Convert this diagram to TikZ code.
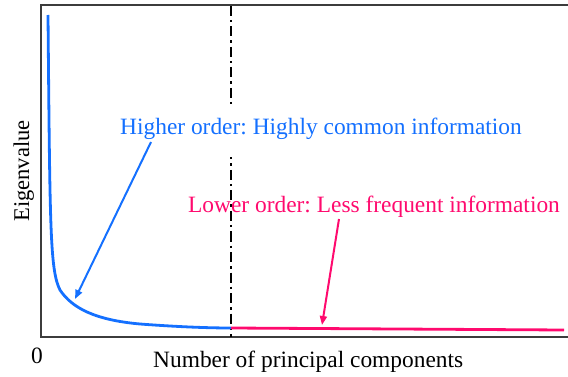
\documentclass[tikz,border=0pt]{standalone}
\usepackage{fontspec}
\setmainfont{Liberation Serif}
\usetikzlibrary{arrows.meta}
\definecolor{cblue}{RGB}{20,112,255}
\definecolor{cpink}{RGB}{255,10,110}
\definecolor{axisgray}{RGB}{60,60,60}
\frenchspacing
\begin{document}
\begin{tikzpicture}[x=1pt,y=-1pt,
  axisline/.style={draw=axisgray,line width=1.4pt},
  curveline/.style={line width=2.8pt},
  callout/.style={line width=2pt,-{Triangle[length=9pt,width=7pt]}},
  lbl/.style={font=\fontsize{23.4}{27}\selectfont,inner sep=0pt}]
\useasboundingbox (0,0) rectangle (568,377);
% axes frame
\coordinate (tl) at (41,5);
\coordinate (tr) at (568,5);
\coordinate (bl) at (41,337);
\coordinate (br) at (568,337);
\draw[axisline] (tr) -- (tl) -- (bl) -- (br);
% divider
\coordinate (dtop) at (231,6);
\coordinate (dbot) at (231,337);
\draw[line width=2.4pt,dash pattern=on 10pt off 4pt on 2.5pt off 4pt] (dtop) -- (dbot);
% curves
\coordinate (c0) at (48,15);
\coordinate (c1) at (60,290);
\coordinate (c2) at (140,324);
\coordinate (c3) at (231,328);
\coordinate (c4) at (564,330);
\draw[curveline,cblue] (c0) .. controls (50,230) and (50,270) .. (c1)
  .. controls (72,308) and (95,320) .. (c2)
  .. controls (180,327) and (210,328) .. (c3);
\draw[curveline,cpink] (c3) -- (c4);
% labels
\fill[white] (100,106) rectangle (562,157);
\node[lbl,text=cblue,anchor=base west] (hl) at (120,135) {Higher order: Highly common information};
\node[lbl,text=cpink,anchor=base west] (ll) at (188,213) {Lower order: Less frequent information};
% callouts
\coordinate (bs) at (151,142);
\coordinate (bt) at (75,299);
\coordinate (rs) at (339,219);
\coordinate (rt) at (322,325);
\draw[callout,cblue] (bs) -- (bt);
\draw[callout,cpink] (rs) -- (rt);
% axis labels
\node[lbl,anchor=base] (zero) at (37,363) {0};
\node[lbl,anchor=base west] (xl) at (153,367) {Number of principal components};
\node[lbl,font=\fontsize{22.5}{26}\selectfont,rotate=90,anchor=base] (yl) at (29,171) {Eigenvalue};
\end{tikzpicture}
\end{document}
